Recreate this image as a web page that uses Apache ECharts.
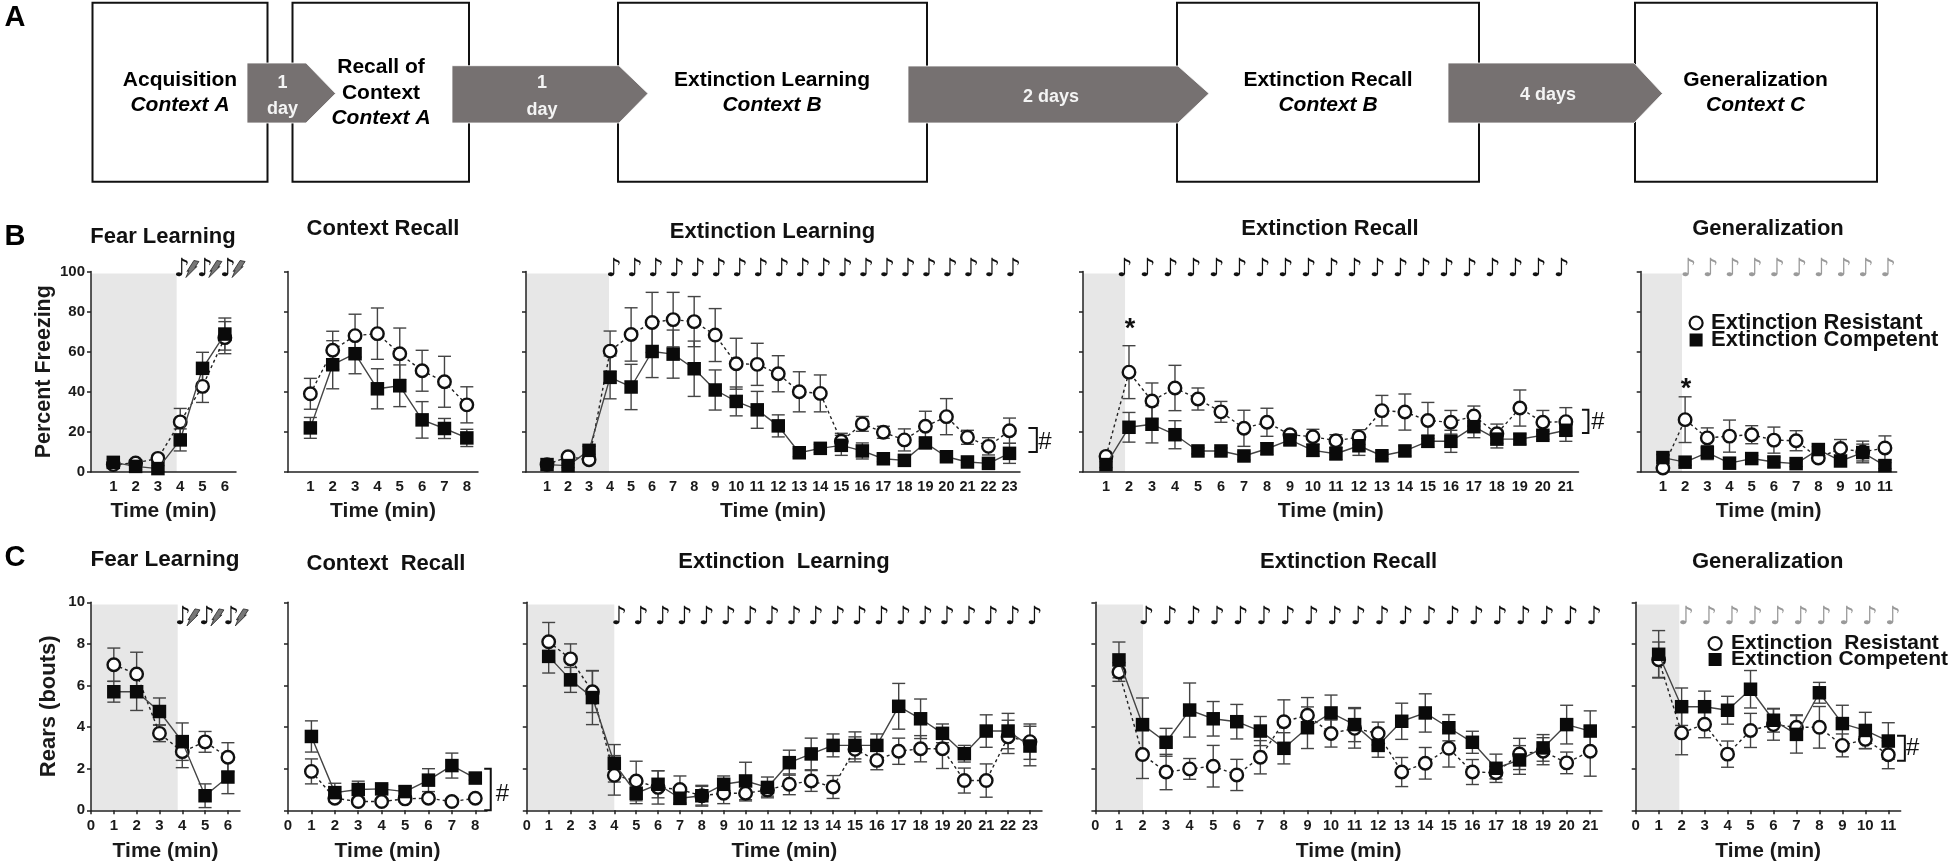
<!DOCTYPE html>
<html>
<head>
<meta charset="utf-8">
<title>Freezing and rearing across sessions</title>
<script src="https://cdn.jsdelivr.net/npm/echarts@6/dist/echarts.min.js"></script>
<style>
    html, body { margin: 0; padding: 0; background: #fff; }
    #main { width: 1955px; height: 868px; }
</style>
</head>
<body>
<div id="main"></div>
<script>
// series names
var resistantName = 'Extinction Resistant';
var competentName = 'Extinction Competent';
var resistantNameC = 'Extinction  Resistant';
var competentNameC = 'Extinction Competent ';

// B: percent freezing
var bFearRes = [3.7, 4.5, 6.8, 25, 42.7, 67];
var bFearResErr = [1.5, 1.5, 1.5, 6.7, 8, 8];
var bFearComp = [4.8, 2.8, 1.7, 16, 51.7, 68.8];
var bFearCompErr = [1.5, 1.5, 1.5, 5.5, 8, 8];

var bContextRes = [39, 60.7, 68, 69, 59, 50.5, 45, 33.5];
var bContextResErr = [7.7, 9.5, 10.7, 12.8, 12.8, 10.2, 12.7, 9];
var bContextComp = [22, 53.5, 59, 41.5, 43, 26, 21.7, 17];
var bContextCompErr = [5.2, 12, 10, 10, 10.4, 9.1, 5, 4.3];

var bExtRes = [3.7, 7.6, 6.1, 60.3, 68.6, 74.6, 76, 75, 68.3, 54, 53.7, 49, 40, 39.2, 15.3, 24, 19.8, 16, 22.8, 27.6, 17.3, 12.8, 20.6];
var bExtResErr = [1, 1, 1, 10, 13.3, 15, 13.6, 12.5, 13.2, 12.7, 10.5, 9, 10, 9.2, 4, 3.7, 3, 5.5, 7.5, 9, 3.5, 4.3, 6.3];
var bExtComp = [3.7, 3.2, 10.8, 47.2, 42.4, 60.1, 58.8, 51.5, 40.9, 35.2, 31, 23, 9.6, 11.8, 13.3, 10.5, 6.6, 5.8, 14.5, 7.6, 5, 4.3, 9.3];
var bExtCompErr = [1, 1, 2, 10.7, 11.3, 13, 12, 13.8, 10, 7.2, 9.2, 5.5, 2, 2, 5, 4, 1.5, 1.5, 2, 1.5, 1.5, 1.5, 5];

var bRecallRes = [7.8, 49.8, 35.4, 41.9, 36.4, 30, 21.8, 24.8, 18.6, 17.6, 15.6, 17.4, 30.6, 29.9, 25.7, 24.8, 27.9, 19.1, 31.9, 24.8, 25.1];
var bRecallResErr = [1, 13.2, 9, 11.3, 5.5, 5.2, 9, 7, 2, 3.7, 3, 3.7, 7.6, 9, 9, 5.9, 5, 4.8, 9, 5.9, 7];
var bRecallComp = [3.7, 22.3, 23.8, 18.6, 10.5, 10.5, 8, 11.6, 16, 10.8, 9.1, 13.1, 8.1, 10.5, 15.3, 15.3, 22.6, 16.4, 16.4, 18.3, 20.8];
var bRecallCompErr = [1.5, 7.4, 9.3, 7, 1.5, 1.5, 2, 3, 2.5, 3, 3, 4.8, 1.5, 2.5, 3, 5.5, 5.5, 4.4, 2.5, 2, 5.5];

var bGenRes = [2, 26.1, 17, 17.9, 18.6, 15.9, 15.6, 7, 11.7, 10, 12];
var bGenResErr = [1, 11.4, 5, 8, 4.5, 6.5, 5, 1.5, 4.5, 5.4, 6];
var bGenComp = [7.2, 4.9, 9.7, 4.4, 6.7, 5, 4.2, 11.2, 5.5, 9.7, 3.2];
var bGenCompErr = [1.5, 1.5, 3.5, 1.5, 1.5, 2.5, 1.5, 1.5, 2, 4.2, 1.5];

// C: rears
var cFearRes = [7, 6.55, 3.7, 2.82, 3.29, 2.55];
var cFearResErr = [0.8, 1.05, 0.4, 0.77, 0.5, 0.7];
var cFearComp = [5.7, 5.7, 4.75, 3.3, 0.7, 1.6];
var cFearCompErr = [0.5, 0.9, 0.65, 0.9, 0.57, 0.8];

var cContextRes = [1.87, 0.58, 0.42, 0.42, 0.55, 0.58, 0.42, 0.58];
var cContextResErr = [0.6, 0.15, 0.15, 0.15, 0.15, 0.15, 0.15, 0.1];
var cContextComp = [3.55, 0.85, 1, 1.03, 0.9, 1.45, 2.15, 1.55];
var cContextCompErr = [0.75, 0.45, 0.4, 0.2, 0.25, 0.55, 0.6, 0.1];

var cExtRes = [8.1, 7.28, 5.7, 1.68, 1.41, 1.1, 1, 0.7, 0.82, 0.82, 0.98, 1.25, 1.41, 1.12, 2.93, 2.4, 2.84, 2.96, 2.96, 1.43, 1.43, 3.53, 3.3];
var cExtResErr = [0.93, 0.72, 1, 0.95, 0.95, 0.8, 0.65, 0.5, 0.5, 0.37, 0.3, 0.5, 0.5, 0.55, 0.6, 0.45, 0.63, 0.63, 0.95, 0.6, 0.8, 0.8, 0.85];
var cExtComp = [7.4, 6.27, 5.42, 2.26, 0.82, 1.25, 0.58, 0.7, 1.25, 1.41, 1.1, 2.29, 2.71, 3.12, 3.12, 3.12, 5, 4.4, 3.7, 2.72, 3.81, 3.81, 3.09];
var cExtCompErr = [0.8, 0.6, 1.3, 0.9, 0.5, 0.65, 0.3, 0.45, 0.4, 0.9, 0.5, 0.6, 0.76, 0.55, 0.65, 0.55, 1.1, 0.95, 0.45, 0.4, 0.78, 0.85, 0.95];

var cRecallRes = [6.65, 2.68, 1.84, 1.99, 2.12, 1.7, 2.55, 4.26, 4.57, 3.69, 3.94, 3.69, 1.84, 2.26, 2.98, 1.84, 1.81, 2.71, 2.84, 2.28, 2.84];
var cRecallResErr = [0.45, 1.15, 0.85, 0.5, 1, 0.75, 0.8, 1.05, 0.85, 0.65, 0.95, 0.55, 0.7, 0.76, 0.9, 0.6, 0.3, 0.75, 0.65, 0.52, 1.2];
var cRecallComp = [7.23, 4.12, 3.27, 4.82, 4.4, 4.26, 3.81, 2.98, 3.97, 4.68, 4.12, 3.12, 4.28, 4.68, 3.97, 3.27, 2.02, 2.42, 3, 4.12, 3.81];
var cRecallCompErr = [0.86, 1.28, 0.67, 1.3, 0.83, 0.83, 0.7, 0.75, 1, 0.86, 0.82, 0.57, 0.87, 0.92, 0.63, 0.53, 0.68, 0.69, 0.64, 0.93, 0.97];

var cGenRes = [7.24, 3.72, 4.14, 2.7, 3.84, 4.12, 3.99, 3.99, 3.12, 3.41, 2.67];
var cGenResErr = [0.85, 1.05, 0.65, 0.63, 0.82, 0.75, 0.6, 1, 0.55, 0.45, 0.67];
var cGenComp = [7.5, 4.98, 4.98, 4.81, 5.82, 4.33, 3.65, 5.65, 4.17, 3.84, 3.33];
var cGenCompErr = [1.14, 0.9, 0.75, 0.67, 0.9, 0.57, 0.9, 0.5, 0.88, 0.87, 0.88];

// tick labels
var freezingTicks = [0, 20, 40, 60, 80, 100];
var rearTicks = [0, 2, 4, 6, 8, 10];

// flow diagram text
var flowBoxLabels = [
    ['Acquisition', 'Context A'],
    ['Recall of', 'Context', 'Context A'],
    ['Extinction Learning', 'Context B'],
    ['Extinction Recall', 'Context B'],
    ['Generalization', 'Context C']
];
var flowArrowLabels = [['1', 'day'], ['1', 'day'], ['2 days'], ['4 days']];

var FONT = '"Liberation Sans", Arial, sans-serif';
var INK = '#1a1a1a';
var BAR = '#444';

/**
 * whole minutes from first to last
 *
 * @param  {number} first first minute
 * @param  {number} last  last minute
 * @return {number[]} minutes
 */
function minutes(first, last) {
    var list = [];
    for (var i = first; i <= last; ++i) {
        list.push(i);
    }
    return list;
}

// layout of the ten panels, axis lines in picture pixels
var panels = [
    {
        title: 'Fear Learning', titleX: 163, titleY: 237, titleSize: 22,
        left: 91, right: 236, top: 271.5, bottom: 472, xMax: 6.5, row: 'B', yName: 'Percent Freezing',
        res: bFearRes, resErr: bFearResErr, comp: bFearComp, compErr: bFearCompErr,
        band: 3.84, notes: [4.3, 5.33, 6.37], noteY: 101, bolt: true
    },
    {
        title: 'Context Recall', titleX: 383, titleY: 229, titleSize: 22,
        left: 288, right: 478, top: 271.5, bottom: 472, xMax: 8.5, row: 'B',
        res: bContextRes, resErr: bContextResErr, comp: bContextComp, compErr: bContextCompErr
    },
    {
        title: 'Extinction Learning', titleX: 772.5, titleY: 232, titleSize: 22,
        left: 526, right: 1020, top: 271.5, bottom: 472, xMax: 23.5, row: 'B',
        res: bExtRes, resErr: bExtResErr, comp: bExtComp, compErr: bExtCompErr,
        band: 3.95, notes: minutes(4, 23), noteShift: 0.18, noteY: 101,
        bracket: [23.9, 24.3, 10, 22], hash: [24.68, 15]
    },
    {
        title: 'Extinction Recall', titleX: 1330, titleY: 229, titleSize: 22,
        left: 1083, right: 1578.5, top: 271.5, bottom: 472, xMax: 21.55, row: 'B',
        res: bRecallRes, resErr: bRecallResErr, comp: bRecallComp, compErr: bRecallCompErr,
        band: 1.83, notes: minutes(2, 21), noteShift: -0.18, noteY: 101,
        bracket: [21.7, 21.98, 19.5, 31], hash: [22.4, 25], star: [2.04, 71]
    },
    {
        title: 'Generalization', titleX: 1768, titleY: 229, titleSize: 22,
        left: 1640.7, right: 1896.7, top: 271.5, bottom: 472, xMax: 11.53, row: 'B',
        res: bGenRes, resErr: bGenResErr, comp: bGenComp, compErr: bGenCompErr,
        band: 1.86, notes: minutes(2, 11), noteShift: 0.15, noteY: 101, noteColor: '#9a9a9a', star: [2.04, 41]
    },
    {
        title: 'Fear Learning', titleX: 165, titleY: 560, titleSize: 22.5,
        left: 91, right: 240, top: 602.3, bottom: 810.3, xMax: 6.53, row: 'C', yName: 'Rears (bouts)',
        res: cFearRes, resErr: cFearResErr, comp: cFearComp, compErr: cFearCompErr,
        band: 3.8, notes: [4.25, 5.3, 6.37], noteY: 9.25, bolt: true
    },
    {
        title: 'Context  Recall', titleX: 386, titleY: 564, titleSize: 22,
        left: 288, right: 487, top: 602.3, bottom: 810.3, xMax: 8.5, row: 'C',
        res: cContextRes, resErr: cContextResErr, comp: cContextComp, compErr: cContextCompErr,
        bracket: [8.38, 8.66, 0, 2], hash: [9.16, 0.78]
    },
    {
        title: 'Extinction  Learning', titleX: 784, titleY: 562, titleSize: 22,
        left: 526.8, right: 1042, top: 602.3, bottom: 810.3, xMax: 23.55, row: 'C',
        res: cExtRes, resErr: cExtResErr, comp: cExtComp, compErr: cExtCompErr,
        band: 4, notes: minutes(4, 23), noteShift: 0.22, noteY: 9.25
    },
    {
        title: 'Extinction Recall', titleX: 1348.6, titleY: 562, titleSize: 22,
        left: 1095.4, right: 1602, top: 602.3, bottom: 810.3, xMax: 21.5, row: 'C',
        res: cRecallRes, resErr: cRecallResErr, comp: cRecallComp, compErr: cRecallCompErr,
        band: 2.02, notes: minutes(2, 21), noteShift: 0.17, noteY: 9.25
    },
    {
        title: 'Generalization', titleX: 1767.7, titleY: 562, titleSize: 22,
        left: 1635.7, right: 1900.7, top: 602.3, bottom: 810.3, xMax: 11.54, row: 'C',
        res: cGenRes, resErr: cGenResErr, comp: cGenComp, compErr: cGenCompErr,
        band: 1.9, notes: minutes(2, 11), noteShift: 0.2, noteY: 9.25, noteColor: '#9a9a9a',
        bracket: [11.38, 11.72, 2.38, 3.59], hash: [12.06, 2.98]
    }
];

/**
 * error bar with caps for one group
 *
 * @param  {number} grid   panel index
 * @param  {number[]} vals means
 * @param  {number[]} errs errors
 * @return {Object} custom series
 */
function errorBars(grid, vals, errs) {
    var data = [];
    for (var i = 0; i < vals.length; ++i) {
        data.push([i + 1, Math.max(0, vals[i] - errs[i]), vals[i] + errs[i]]);
    }
    return {
        type: 'custom',
        xAxisIndex: grid,
        yAxisIndex: grid,
        z: 3,
        silent: true,
        data: data,
        encode: {x: 0, y: [1, 2]},
        renderItem: function (params, api) {
            var low = api.coord([api.value(0), api.value(1)]);
            var high = api.coord([api.value(0), api.value(2)]);
            var cap = 6.5;
            var style = {stroke: BAR, lineWidth: 1.4, fill: null};
            return {
                type: 'group',
                children: [
                    {type: 'line', shape: {x1: low[0], y1: low[1], x2: high[0], y2: high[1]}, style: style},
                    {type: 'line', shape: {x1: low[0] - cap, y1: low[1], x2: low[0] + cap, y2: low[1]}, style: style},
                    {type: 'line', shape: {x1: low[0] - cap, y1: high[1], x2: low[0] + cap, y2: high[1]}, style: style}
                ]
            };
        }
    };
}

/**
 * tone marks above a panel, with a shock bolt when asked
 *
 * @param  {number} grid panel index
 * @param  {Object} p    panel
 * @return {Object} custom series
 */
function noteSeries(grid, p) {
    var shift = p.noteShift || 0;
    return {
        type: 'custom',
        xAxisIndex: grid,
        yAxisIndex: grid,
        z: 6,
        silent: true,
        data: p.notes.map(function (m) {
            return [m + shift, p.noteY];
        }),
        renderItem: function (params, api) {
            var c = api.coord([api.value(0), api.value(1)]);
            var children = [{
                type: 'text',
                style: {
                    x: c[0] - (p.bolt ? 5 : 0),
                    y: c[1],
                    text: '\u266A',
                    align: 'center',
                    verticalAlign: 'middle',
                    fontFamily: '"DejaVu Sans"',
                    fontSize: 25,
                    fill: p.noteColor || '#111'
                }
            }];
            if (p.bolt) {
                children.push({
                    type: 'polygon',
                    shape: {
                        points: [[-1, 8], [2, 1], [0, 2], [7, -9], [12, -8], [8, -2], [10, -3]].map(function (o) {
                            return [c[0] + o[0], c[1] + o[1]];
                        })
                    },
                    style: {fill: '#777', stroke: '#222', lineWidth: 0.8}
                });
            }
            return {type: 'group', children: children};
        }
    };
}

/**
 * significance bracket, hash and star of a panel
 *
 * @param  {number} grid panel index
 * @param  {Object} p    panel
 * @return {Object} custom series
 */
function signSeries(grid, p) {
    return {
        type: 'custom',
        xAxisIndex: grid,
        yAxisIndex: grid,
        z: 6,
        silent: true,
        data: [[0, 0]],
        renderItem: function (params, api) {
            var children = [];
            if (p.bracket) {
                var a = api.coord([p.bracket[0], p.bracket[2]]);
                var b = api.coord([p.bracket[1], p.bracket[3]]);
                children.push({
                    type: 'polyline',
                    shape: {points: [[a[0], a[1]], [b[0], a[1]], [b[0], b[1]], [a[0], b[1]]]},
                    style: {stroke: '#111', lineWidth: 2, fill: null}
                });
            }
            if (p.hash) {
                var h = api.coord(p.hash);
                children.push({
                    type: 'text',
                    style: {
                        x: h[0], y: h[1], text: '#', align: 'center', verticalAlign: 'middle',
                        fontFamily: FONT, fontSize: 24, fill: '#111'
                    }
                });
            }
            if (p.star) {
                var s = api.coord(p.star);
                children.push({
                    type: 'text',
                    style: {
                        x: s[0], y: s[1], text: '*', align: 'center', verticalAlign: 'middle',
                        fontFamily: FONT, fontWeight: 'bold', fontSize: 27, fill: '#111'
                    }
                });
            }
            return {type: 'group', children: children};
        }
    };
}

var grids = [];
var xAxes = [];
var yAxes = [];
var titles = [];
var series = [];

panels.forEach(function (p, i) {
    var isB = p.row === 'B';
    var count = p.res.length;
    var yTicks = isB ? freezingTicks : rearTicks;
    var xLabels = isB ? minutes(1, count) : minutes(0, count);

    grids.push({
        left: p.left,
        top: p.top,
        width: p.right - p.left,
        height: p.bottom - p.top
    });

    xAxes.push({
        type: 'value',
        gridIndex: i,
        min: 0,
        max: p.xMax,
        name: 'Time (min)',
        nameLocation: 'middle',
        nameGap: isB ? 29 : 30,
        nameTextStyle: {fontFamily: FONT, fontWeight: 'bold', fontSize: 21, color: INK},
        splitLine: {show: false},
        axisLine: {onZero: false, lineStyle: {color: '#222', width: 1.5}},
        axisTick: {show: !isB, length: 4, customValues: xLabels, lineStyle: {color: '#222', width: 1.5}},
        axisLabel: {
            customValues: xLabels,
            margin: isB ? 7 : 8,
            fontFamily: FONT,
            fontWeight: 'bold',
            fontSize: count > 15 ? 14.5 : 15,
            color: INK
        },
        z: 2
    });

    yAxes.push({
        type: 'value',
        gridIndex: i,
        min: yTicks[0],
        max: yTicks[yTicks.length - 1],
        interval: yTicks[1] - yTicks[0],
        name: p.yName || '',
        nameLocation: 'middle',
        nameGap: isB ? 36 : 31,
        nameTextStyle: {fontFamily: FONT, fontWeight: 'bold', fontSize: isB ? 21.5 : 22, color: INK},
        splitLine: {show: false},
        axisLine: {onZero: false, lineStyle: {color: '#222', width: 1.5}},
        axisTick: {length: 4, lineStyle: {color: '#222', width: 1.5}},
        axisLabel: {
            show: i === 0 || i === 5,
            margin: 6,
            fontFamily: FONT,
            fontWeight: 'bold',
            fontSize: 15,
            color: INK
        },
        z: 2
    });

    titles.push({
        text: p.title,
        left: p.titleX,
        top: p.titleY,
        textAlign: 'center',
        textVerticalAlign: 'middle',
        padding: 0,
        textStyle: {fontFamily: FONT, fontWeight: 'bold', fontSize: p.titleSize, color: '#111'}
    });

    series.push(errorBars(i, p.res, p.resErr));
    series.push(errorBars(i, p.comp, p.compErr));

    var resLine = {
        name: isB ? resistantName : resistantNameC,
        type: 'line',
        xAxisIndex: i,
        yAxisIndex: i,
        z: 4,
        clip: false,
        silent: true,
        symbol: 'circle',
        symbolSize: 12.5,
        showAllSymbol: true,
        data: p.res.map(function (v, k) {
            return [k + 1, v];
        }),
        lineStyle: {color: '#222', width: 1.4, type: [3, 3]},
        itemStyle: {color: '#fff', borderColor: '#111', borderWidth: 2.4}
    };
    if (p.band) {
        var top = yTicks[yTicks.length - 1] * 0.99;
        resLine.markArea = {
            silent: true,
            z: 1,
            itemStyle: {color: '#e7e7e7'},
            data: [[{coord: [0, 0]}, {coord: [p.band, top]}]]
        };
    }
    series.push(resLine);

    series.push({
        name: isB ? competentName : competentNameC,
        type: 'line',
        xAxisIndex: i,
        yAxisIndex: i,
        z: 5,
        clip: false,
        silent: true,
        symbol: 'rect',
        symbolSize: 13.5,
        showAllSymbol: true,
        data: p.comp.map(function (v, k) {
            return [k + 1, v];
        }),
        lineStyle: {color: '#444', width: 1.4},
        itemStyle: {color: '#0a0a0a'}
    });

    if (p.notes) {
        series.push(noteSeries(i, p));
    }
    if (p.bracket || p.star) {
        series.push(signSeries(i, p));
    }
});

// panel letters
[['A', 15, 18], ['B', 15, 237], ['C', 15, 558]].forEach(function (l) {
    titles.push({
        text: l[0],
        left: l[1],
        top: l[2],
        textAlign: 'center',
        textVerticalAlign: 'middle',
        padding: 0,
        textStyle: {fontFamily: FONT, fontWeight: 'bold', fontSize: 29, color: '#000'}
    });
});

/**
 * legend for one row
 *
 * @param  {string} first  resistant name
 * @param  {string} second competent name
 * @param  {number} left   left edge
 * @param  {number} top    top edge
 * @param  {number} size   font size
 * @param  {number} pad    gap added before the text
 * @param  {number} gap    item gap
 * @return {Object} legend option
 */
function makeLegend(first, second, left, top, size, pad, gap) {
    return {
        orient: 'vertical',
        left: left,
        top: top,
        padding: 0,
        itemGap: gap,
        itemWidth: 13,
        itemHeight: 13,
        selectedMode: false,
        align: 'left',
        textStyle: {
            fontFamily: FONT,
            fontWeight: 'bold',
            fontSize: size,
            color: '#111',
            padding: [0, 0, 0, pad]
        },
        data: [
            {name: first, icon: 'circle', itemStyle: {color: '#fff', borderColor: '#111', borderWidth: 2.2}},
            {name: second, icon: 'rect', itemStyle: {color: '#0a0a0a', borderWidth: 0}}
        ]
    };
}

// flow diagram at the top, picture pixels
var flowBoxes = [[92.5, 267.5], [292.5, 469], [618, 927], [1177, 1479], [1635, 1877]];
var flowBoxText = [[180, [80, 105]], [381, [67, 93, 118]], [772, [80, 105]], [1328, [80, 105]], [1755.6, [80, 105]]];
var flowArrows = [[247, 306, 335.6, 63], [452, 619, 648, 65.7], [908, 1178, 1209, 66], [1448, 1634, 1662.5, 63]];
var flowArrowText = [[282.5, [83, 109]], [542, [83, 110]], [1051, [97]], [1548, [95]]];

var flow = [];
flowBoxes.forEach(function (b, i) {
    flow.push({
        type: 'rect',
        shape: {x: b[0], y: 2.7, width: b[1] - b[0], height: 179},
        style: {fill: '#fff', stroke: '#111', lineWidth: 2}
    });
});
flowArrows.forEach(function (a) {
    flow.push({
        type: 'polygon',
        shape: {points: [[a[0], a[3]], [a[1], a[3]], [a[2], 93.5], [a[1], 123], [a[0], 123]]},
        style: {fill: '#767171', stroke: '#fff', lineWidth: 0.8}
    });
});
flowBoxLabels.forEach(function (lines, i) {
    lines.forEach(function (s, k) {
        flow.push({
            type: 'text',
            style: {
                x: flowBoxText[i][0],
                y: flowBoxText[i][1][k],
                text: s,
                align: 'center',
                verticalAlign: 'middle',
                fontFamily: FONT,
                fontWeight: 'bold',
                fontStyle: k === lines.length - 1 ? 'italic' : 'normal',
                fontSize: 21,
                fill: '#000'
            }
        });
    });
});
flowArrowLabels.forEach(function (lines, i) {
    lines.forEach(function (s, k) {
        flow.push({
            type: 'text',
            style: {
                x: flowArrowText[i][0],
                y: flowArrowText[i][1][k],
                text: s,
                align: 'center',
                verticalAlign: 'middle',
                fontFamily: FONT,
                fontWeight: 'bold',
                fontSize: 18,
                fill: '#f4f4f4'
            }
        });
    });
});

var chart = echarts.init(document.getElementById('main'), null, {renderer: 'canvas'});
chart.setOption({
    animation: false,
    backgroundColor: '#fff',
    title: titles,
    grid: grids,
    xAxis: xAxes,
    yAxis: yAxes,
    legend: [
        makeLegend(resistantName, competentName, 1688.5, 312, 22, 3.5, -5),
        makeLegend(resistantNameC, competentNameC, 1707.5, 633, 21, 4.5, -5)
    ],
    graphic: flow,
    series: series
});
</script>
</body>
</html>
